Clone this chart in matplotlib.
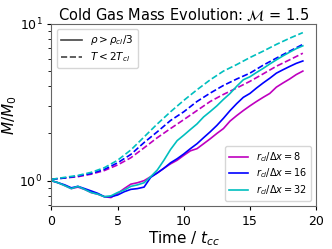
import numpy as np
import matplotlib
matplotlib.use("Agg")
from matplotlib import pyplot as plt
from matplotlib.lines import Line2D

# dashed curves (T < 2 T_cl), sampled each t_cc
t_dash = np.arange(0, 20, 1.0)
dash_8 = [1.02, 1.04, 1.06, 1.10, 1.16, 1.26, 1.40, 1.62, 1.88, 2.15,
          2.45, 2.80, 3.20, 3.55, 3.90, 4.30, 4.80, 5.37, 5.90, 6.50]
dash_16 = [1.02, 1.04, 1.07, 1.11, 1.18, 1.30, 1.47, 1.75, 2.05, 2.42,
           2.75, 3.20, 3.62, 4.05, 4.45, 4.85, 5.45, 6.05, 6.70, 7.40]
dash_32 = [1.02, 1.05, 1.08, 1.13, 1.21, 1.35, 1.57, 1.90, 2.30, 2.75,
           3.25, 3.80, 4.40, 5.00, 5.50, 6.10, 6.70, 7.40, 8.10, 8.80]

# solid curves (rho > rho_cl/3), sampled each 0.5 t_cc
t_sol = np.arange(0, 19.5, 0.5)
sol_8 = [1.00, 0.97, 0.93, 0.89, 0.91, 0.88, 0.84, 0.82, 0.79, 0.78,
         0.83, 0.89, 0.95, 0.97, 1.00, 1.06, 1.12, 1.20, 1.28, 1.35,
         1.45, 1.55, 1.60, 1.72, 1.85, 2.00, 2.15, 2.40, 2.60, 2.80,
         3.00, 3.20, 3.40, 3.60, 3.95, 4.20, 4.45, 4.75, 5.00]
sol_16 = [1.00, 0.97, 0.94, 0.90, 0.92, 0.89, 0.86, 0.83, 0.79, 0.79,
          0.81, 0.85, 0.88, 0.89, 0.91, 1.05, 1.12, 1.20, 1.30, 1.38,
          1.48, 1.60, 1.72, 1.88, 2.05, 2.25, 2.50, 2.80, 3.10, 3.40,
          3.60, 3.90, 4.20, 4.50, 4.85, 5.10, 5.35, 5.60, 5.80]
sol_32 = [1.00, 0.97, 0.93, 0.89, 0.92, 0.88, 0.84, 0.82, 0.79, 0.80,
          0.84, 0.87, 0.92, 0.94, 0.97, 1.06, 1.17, 1.35, 1.58, 1.80,
          1.95, 2.12, 2.30, 2.55, 2.76, 3.00, 3.30, 3.60, 4.00, 4.40,
          4.60, 4.90, 5.20, 5.55, 5.90, 6.25, 6.60, 6.95, 7.25]

labels = [r'$r_{cl}/\Delta x = 8$', r'$r_{cl}/\Delta x = 16$', r'$r_{cl}/\Delta x = 32$']
colors = ['m', 'b', 'c']

fig = plt.figure(figsize=(3.32, 2.49), dpi=100)
ax = fig.add_axes([0.155, 0.173, 0.797, 0.731])

for sol, dash, c, lab in zip([sol_8, sol_16, sol_32], [dash_8, dash_16, dash_32], colors, labels):
    ax.plot(t_sol, sol, color=c, lw=1.2, label=lab)
    ax.plot(t_dash, dash, color=c, lw=1.2, ls='--')

ax.set_yscale('log')
ax.set_xlim(0, 20)
ax.set_ylim(0.69, 10)
ax.set_xticks([0, 5, 10, 15, 20])
ax.tick_params(labelsize=9, length=3)
ax.set_xlabel(r'Time / $t_{cc}$', fontsize=11, labelpad=1)
ax.set_ylabel(r'$M/M_0$', fontsize=11, labelpad=0)
ax.set_title(r'Cold Gas Mass Evolution: $\mathcal{M}$ = 1.5', fontsize=10.5, pad=3)
for s in ax.spines.values():
    s.set_color('#666666')

leg2 = ax.legend(loc='lower right', fontsize=7, handlelength=2.0, borderpad=0.4, labelspacing=0.3)
ax.add_artist(leg2)
handles = [Line2D([], [], color='#444444', lw=1.2, ls='-'),
           Line2D([], [], color='#444444', lw=1.2, ls='--')]
ax.legend(handles, [r'$\rho > \rho_{cl}/3$', r'$T < 2T_{cl}$'], loc='upper left',
          fontsize=7.5, handlelength=2.0, borderpad=0.4, labelspacing=0.3)

fig.savefig('out.png', dpi=100)
